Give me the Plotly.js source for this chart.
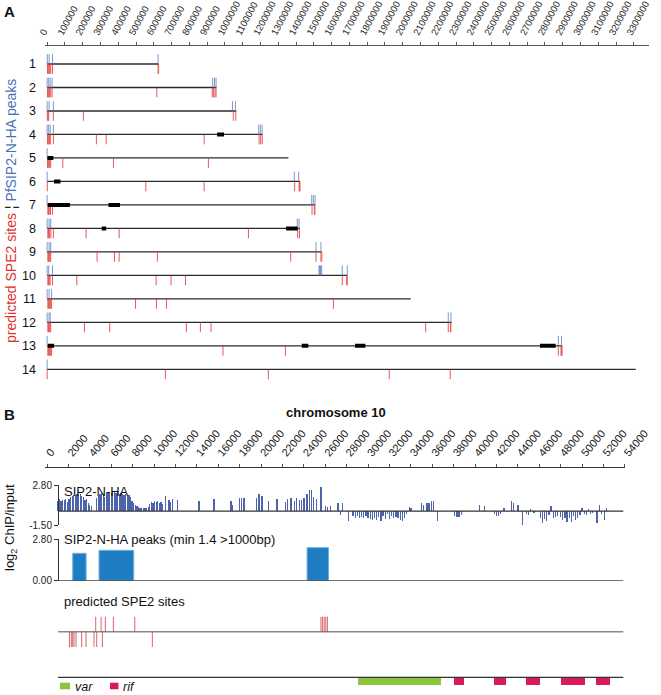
<!DOCTYPE html>
<html><head><meta charset="utf-8">
<script src="https://cdn.plot.ly/plotly-3.0.1.min.js"></script>
<style>html,body{margin:0;padding:0;background:#fff}#chart{width:661px;height:695px}</style>
</head><body><div id="chart"></div>
<script>
// ---------- Panel A data (positions in kb) ----------
const chromRows = [1,2,3,4,5,6,7,8,9,10,11,12,13,14];
const chromLenKb = [626,952,1064,1212,1357,1422,1507,1421,1544,1688,2045,2275,2897,3311];
const spe2SitesKb = [
  [2,6,10,14,20,30,624,627],
  [2,6,10,14,20,28,617,929,935,944,950],
  [1,5,9,35,204,1047,1061],
  [2,6,10,14,18,35,277,332,883,1192,1201,1210],
  [2,6,10,14,20,88,373,907],
  [1,555,883,1392,1417,1420,1422],
  [4,8,12,19,30,1490,1503,1506],
  [4,8,13,21,35,219,405,1132,1409,1419],
  [4,8,12,16,20,281,379,405,620,1370,1512,1540,1545],
  [4,8,12,17,30,167,613,697,778,1660,1685,1688],
  [4,8,12,16,20,25,497,615,671,1610],
  [4,8,12,16,20,210,352,783,862,922,2129,2256,2268,2271],
  [4,8,12,16,20,25,989,1340,2875,2890,2893,2896],
  [0,665,1244,1924,2267]
];
const peaksKb = [
  [1,11,30,624],
  [0,9,17,28,931,941,950],
  [0,11,35,1042,1059],
  [0,9,17,35,1190,1199,1209],
  [0],
  [0,1390,1415],
  [0,1488,1497,1507],
  [0,11,20,1407,1417],
  [0,11,20,1512,1540],
  [0,9,30,1529,1532,1535,1538,1541,1544,1660,1688],
  [0,11,25],
  [0,11,17,2256,2271],
  [0,2875,2893],
  [0]
];
const blackBlocksKb = [
  [], [], [], [[956,995]], [[2,35]], [[39,75]], [[4,128],[345,410]],
  [[307,332],[1344,1409]], [], [], [], [],
  [[4,39],[1432,1469],[1732,1790],[2772,2860]], []
];

// ---------- Panel B data (chromosome 10, positions in kb) ----------
const signalPosKb = [1.0,1.15,1.3,1.45,1.6,1.75,1.9,2.05,2.2,2.35,2.5,2.65,2.8,2.95,3.1,3.25,3.4,3.55,3.7,3.85,4.0,4.15,
 4.65,4.8,4.95,5.1,5.25,5.4,5.55,5.7,5.85,6.0,6.15,6.3,6.45,6.6,6.75,6.9,7.05,7.2,7.35,7.5,7.65,7.8,7.95,8.1,8.25,8.4,
 8.55,8.7,8.85,9.0,9.15,9.3,9.45,9.6,9.75,9.9,10.05,10.2,10.35,10.5,10.65,10.8,11.1,11.4,11.55,11.7,
 12.2,14.2,15.6,17.2,17.3,18.0,18.2,18.4,19.6,19.8,20.1,20.7,21.5,22.3,22.5,22.8,23.1,23.3,23.6,23.8,24.0,24.3,24.5,24.7,24.9,25.2,25.6,26.0,26.2,26.5,
 27.2,27.4,27.6,28.2,28.6,28.8,29.0,29.2,29.4,29.6,29.8,30.0,30.2,30.4,30.6,30.8,31.0,31.2,31.4,31.6,31.8,32.0,32.2,32.4,32.6,32.8,33.0,33.2,33.4,33.6,33.9,34.0,
 35.0,35.2,35.5,35.7,35.9,36.1,36.5,38.1,38.3,38.5,38.7,40.4,40.9,41.8,42.0,42.2,42.4,42.7,43.4,43.6,44.0,44.4,44.8,45.0,45.2,45.5,
 46.1,46.3,46.5,46.7,46.9,47.1,47.3,47.5,47.7,48.0,48.2,48.4,48.6,48.8,49.0,49.2,49.4,49.6,49.8,50.0,50.2,50.4,50.6,50.8,51.0,51.4,51.6,51.8,52.1,52.3];
const signalLog2 = [1.1,1.25,1.05,1.2,1.15,1.3,1.0,1.3,1.55,1.6,1.7,1.75,1.8,1.7,1.85,1.6,1.5,1.15,1.3,0.9,0.6,0.5,
 1.4,1.6,1.85,1.9,1.75,1.5,1.95,2.1,2.0,1.9,2.1,2.05,1.95,2.0,1.85,1.9,1.8,1.7,1.85,1.6,1.75,1.5,1.1,0.9,0.6,0.5,
 0.4,0.3,0.35,0.3,0.35,0.3,0.45,0.8,1.0,0.9,1.1,1.0,1.05,0.9,1.0,0.8,1.6,1.2,1.0,1.3,
 1.15,1.1,1.25,1.1,0.6,1.35,1.4,1.35,1.4,1.85,1.6,1.1,1.25,1.0,1.3,1.35,1.1,1.4,1.2,1.15,1.45,1.8,2.3,2.25,1.5,1.3,2.55,0.5,0.4,0.55,
 0.85,-0.4,0.9,-1.1,-0.5,-0.7,-0.55,-0.8,-0.6,-0.75,-0.5,-0.8,-0.9,-1.0,-0.7,-0.95,-0.6,-1.1,-0.5,-0.85,-0.3,-0.9,-0.5,-0.7,-0.6,-0.8,-0.95,-1.1,-0.7,-0.3,0.4,0.35,
 0.9,0.7,0.85,0.9,1.05,1.1,-1.05,-0.5,-0.65,-0.6,-0.4,0.6,0.5,-0.3,-0.55,-0.5,-0.3,0.3,1.05,0.9,0.6,-1.45,-0.3,-0.4,0.25,-0.2,
 -0.8,-1.3,-0.9,-1.1,-0.4,0.5,-0.7,-0.6,-0.5,-0.6,-1.0,-0.8,-1.2,-0.7,-1.2,-0.5,-1.0,-0.7,-0.4,0.3,-0.3,-0.4,0.2,-0.3,-0.2,-1.3,0.7,-0.3,-0.95,0.3];
const peakStartKb = [2.4, 4.86, 24.3];
const peakEndKb = [3.65, 8.1, 26.3];
const peakLog2 = [1.84, 2.04, 2.22];
const sitesPlusKb = [4.55,5.05,5.45,6.2,8.2,25.6,25.75,25.9,26.05,26.2];
const sitesMinusKb = [2.09,2.27,2.4,2.52,2.71,3.24,3.64,4.39,4.64,5.17,9.84];
const varStartKb = [29.1];
const varEndKb = [36.8];
const rifStartKb = [38.0,41.8,44.8,48.0,51.3];
const rifEndKb = [39.0,42.9,46.1,50.3,52.6];
const trackStartKb = 1.03, trackEndKb = 53.85;

// ---------- helpers ----------
const W = 661, H = 695;
const px = v => v / W, py = v => 1 - v / H;
const KB = 1000;

const traces = [];
function segTrace(xs, ys, color, width, xa, ya, opacity) {
  return {type:'scatter', mode:'lines', x:xs, y:ys, xaxis:xa, yaxis:ya,
    line:{color:color, width:width}, opacity: opacity===undefined?1:opacity,
    hoverinfo:'skip', showlegend:false};
}
const tickH = 0.42;
{
  const xs=[], ys=[];
  chromRows.forEach((r,i)=>{ xs.push(0, chromLenKb[i]*KB, null); ys.push(r, r, null); });
  traces.push(segTrace(xs, ys, '#2b2b2b', 1.3, 'x', 'y'));
}
chromRows.forEach((r,i)=>{
  const xs=[], ys=[];
  peaksKb[i].forEach(p=>{ xs.push(p*KB, p*KB, null); ys.push(r, r - tickH, null); });
  traces.push(segTrace(xs, ys, '#4d78bf', 1, 'x', 'y', 0.75));
});
chromRows.forEach((r,i)=>{
  const xs=[], ys=[];
  spe2SitesKb[i].forEach(p=>{ xs.push(p*KB, p*KB, null); ys.push(r, r + tickH, null); });
  traces.push(segTrace(xs, ys, '#e2302f', 1, 'x', 'y', 0.8));
});
{
  const xs=[], ys=[];
  chromRows.forEach((r,i)=>{ blackBlocksKb[i].forEach(b=>{ xs.push(b[0]*KB, b[1]*KB, null); ys.push(r, r, null); }); });
  traces.push(segTrace(xs, ys, '#000', 4, 'x', 'y'));
}

// Panel B
traces.push({type:'bar', x:signalPosKb.map(v=>v*KB), y:signalLog2, width:120, xaxis:'x2', yaxis:'y3',
  marker:{color:'#2f4a9c', line:{width:0}}, opacity:0.85, hoverinfo:'skip', showlegend:false});
traces.push(segTrace([trackStartKb*KB, trackEndKb*KB], [0,0], '#333', 1.2, 'x2', 'y3'));

traces.push({type:'bar', x:peakStartKb.map((s,i)=>(s+peakEndKb[i])/2*KB), y:peakLog2,
  width:peakStartKb.map((s,i)=>(peakEndKb[i]-s)*KB), xaxis:'x2', yaxis:'y4',
  marker:{color:'#1f7ec3', line:{color:'#6fb0e0', width:1}}, hoverinfo:'skip', showlegend:false});
traces.push(segTrace([trackStartKb*KB, trackEndKb*KB], [0,0], '#444', 1.2, 'x2', 'y4'));

traces.push(segTrace([trackStartKb*KB, trackEndKb*KB], [0,0], '#8a8a8a', 1.6, 'x2', 'y5'));
{
  const xs=[], ys=[];
  sitesPlusKb.forEach(p=>{ xs.push(p*KB,p*KB,null); ys.push(0,1,null); });
  sitesMinusKb.forEach(p=>{ xs.push(p*KB,p*KB,null); ys.push(0,-1,null); });
  traces.push(segTrace(xs, ys, '#c8323f', 1, 'x2', 'y5', 0.75));
}
traces.push(segTrace([trackStartKb*KB, trackEndKb*KB], [0,0], '#333', 1.2, 'x2', 'y6'));
const varColor = '#8cc63f', rifColor = '#d81b5e';
traces.push({type:'bar', x:varStartKb.map((s,i)=>(s+varEndKb[i])/2*KB), y:varStartKb.map(()=>-1),
  width:varStartKb.map((s,i)=>(varEndKb[i]-s)*KB), xaxis:'x2', yaxis:'y6',
  marker:{color:varColor, line:{width:0}}, hoverinfo:'skip', showlegend:false});
traces.push({type:'bar', x:rifStartKb.map((s,i)=>(s+rifEndKb[i])/2*KB), y:rifStartKb.map(()=>-1),
  width:rifStartKb.map((s,i)=>(rifEndKb[i]-s)*KB), xaxis:'x2', yaxis:'y6',
  marker:{color:rifColor, line:{width:0}}, hoverinfo:'skip', showlegend:false});

const fam = 'Liberation Sans, Arial, sans-serif';
const ann = (text, x, y, opts) => Object.assign({text, x:px(x), y:py(y), xref:'paper', yref:'paper',
  xanchor:'left', yanchor:'middle', showarrow:false, font:{size:13, color:'#111'}}, opts||{});
const layout = {
  width:W, height:H, margin:{l:0,r:0,t:0,b:0}, paper_bgcolor:'#fff', plot_bgcolor:'rgba(0,0,0,0)',
  font:{family:fam, size:11, color:'#111'},
  barmode:'overlay', bargap:0, showlegend:false,
  xaxis:{domain:[px(45), px(649)], range:[-12000, 3385000], side:'top', anchor:'y',
    tick0:0, dtick:100000, tickformat:'d', tickangle:-62, ticks:'outside', ticklen:3, tickcolor:'#555',
    showline:true, linecolor:'#555', linewidth:1, showgrid:false, zeroline:false,
    ticklabelshift:-6, ticklabelstandoff:0,
    tickfont:{size:9.5, color:'#222'}},
  yaxis:{domain:[py(383.4), py(46.4)], range:[14.6, 0.25], anchor:'x',
    tickvals:chromRows, ticktext:chromRows.map(String), ticks:'', showline:false, showgrid:false, zeroline:false,
    tickfont:{size:12.5, color:'#111'}, ticklabelstandoff:8},
  xaxis2:{domain:[px(45), px(625)], range:[-190, 54010], side:'top', anchor:'free', position:py(466.7),
    tick0:0, dtick:2000, tickformat:'d', tickangle:-50, ticks:'outside', ticklen:3, tickcolor:'#555',
    showline:true, linecolor:'#333', linewidth:1.3, showgrid:false, zeroline:false,
    tickfont:{size:11, color:'#222'}},
  yaxis3:{domain:[py(525), py(485)], range:[-1.5, 2.8], anchor:'free', position:px(58),
    tickvals:[2.8,-1.5], ticktext:['2.80','-1.50'], ticks:'outside', ticklen:4, tickcolor:'#333',
    showline:true, linecolor:'#333', showgrid:false, zeroline:false, tickfont:{size:10, color:'#222'}},
  yaxis4:{domain:[py(580.7), py(539)], range:[0, 2.8], anchor:'free', position:px(58),
    tickvals:[2.8,0], ticktext:['2.80','0.00'], ticks:'outside', ticklen:4, tickcolor:'#333',
    showline:true, linecolor:'#333', showgrid:false, zeroline:false, tickfont:{size:10, color:'#222'}},
  yaxis5:{domain:[py(647), py(616.5)], range:[-1, 1], anchor:'free', position:px(58), visible:false},
  yaxis6:{domain:[py(685), py(675.76)], range:[-1, 0.2], anchor:'free', position:px(58), visible:false},
  shapes:[
    {type:'rect', xref:'paper', yref:'paper', x0:px(60), x1:px(70), y0:py(689.3), y1:py(682.7), fillcolor:varColor, line:{width:0}},
    {type:'rect', xref:'paper', yref:'paper', x0:px(110), x1:px(118.5), y0:py(689.3), y1:py(682.7), fillcolor:rifColor, line:{width:0}}
  ],
  annotations:[
    ann('<b>A</b>', 2, 11.5, {font:{size:15, color:'#111'}}),
    ann('<b>B</b>', 2, 414.5, {font:{size:15, color:'#111'}}),
    ann('<span style="color:#e0332f">predicted SPE2 sites</span><span style="color:#222"> ¦ </span><span style="color:#4a72b8">PfSIP2-N-HA peaks</span>',
      11, 211, {xanchor:'center', yanchor:'middle', textangle:-90, font:{size:14}}),
    ann('<b>chromosome 10</b>', 335.5, 412, {xanchor:'center'}),
    ann('log<sub>2</sub> ChIP/input', 10, 528, {xanchor:'center', yanchor:'middle', textangle:-90}),
    ann('SIP2-N-HA', 62, 491),
    ann('SIP2-N-HA peaks (min 1.4 &gt;1000bp)', 62, 539),
    ann('predicted SPE2 sites', 62, 601),
    ann('<i>var</i>', 73, 686.5, {font:{size:12.5, color:'#111'}}),
    ann('<i>rif</i>', 120.5, 686.5, {font:{size:12.5, color:'#111'}})
  ]
};
Plotly.newPlot('chart', traces, layout, {displayModeBar:false, staticPlot:true});
</script></body></html>
